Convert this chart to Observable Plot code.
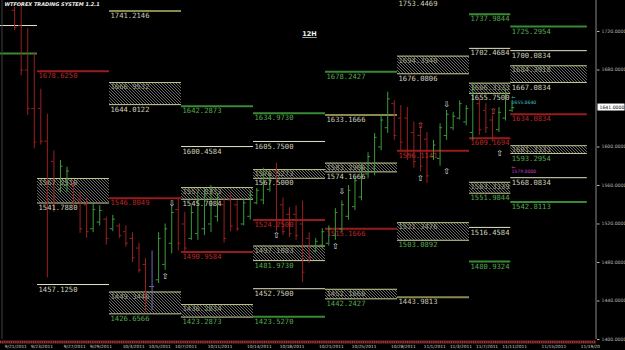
<!DOCTYPE html>
<html><head><meta charset="utf-8">
<script src="https://cdn.jsdelivr.net/npm/d3@7"></script>
<script src="https://cdn.jsdelivr.net/npm/@observablehq/plot@0.6"></script>
<style>html,body{margin:0;padding:0;background:#000;}#chart{width:625px;height:350px;overflow:hidden;}</style>
</head><body><div id="chart"></div>
<script>
// ---- 12H OHLC bars (bar 1 .. 77) ----
const barHigh  = [1745,1750,1723,1698,1660,1634,1596,1586,1579,1563,1553,1547,1541,1539,1527,1529,1520,1518,1511,1500,1484,1492,1511,1520,1539,1547,1532,1539,1550,1557,1560,1552,1547,1552,1544,1546,1555,1557,1578,1572,1583,1547,1537,1539,1544,1511,1505,1515,1518,1536,1544,1560,1568,1583,1594,1614,1633,1657,1648,1643,1641,1626,1619,1615,1607,1624,1638,1636,1648,1643,1666,1650,1645,1633,1641,1661,1648];
const barLow   = [1721,1674,1633,1598,1602,1464,1532,1552,1553,1539,1510,1505,1511,1518,1498,1512,1505,1496,1480,1469,1428,1430,1458,1472,1489,1492,1490,1503,1503,1508,1511,1522,1500,1512,1512,1518,1524,1540,1540,1553,1512,1508,1506,1503,1459,1479,1490,1494,1497,1503,1511,1524,1534,1544,1567,1570,1596,1614,1607,1596,1586,1578,1574,1562,1586,1580,1607,1617,1628,1622,1607,1612,1614,1605,1615,1627,1636];
const barOpen  = [1742,1726,1680,1640,1640,1606,1585,1556,1560,1560,1545,1540,1515,1522,1525,1515,1518,1512,1505,1495,1478,1455,1462,1478,1500,1535,1520,1505,1510,1515,1520,1528,1540,1545,1540,1520,1528,1542,1545,1556,1575,1540,1530,1530,1520,1505,1492,1498,1500,1508,1515,1528,1538,1548,1572,1578,1600,1620,1645,1630,1630,1615,1612,1608,1590,1588,1612,1620,1630,1626,1615,1645,1638,1628,1618,1630,1638];
const barClose = [1724,1680,1640,1605,1606,1545,1548,1580,1575,1545,1515,1512,1535,1534,1505,1525,1508,1500,1485,1472,1440,1455,1505,1515,1532,1500,1495,1532,1545,1550,1555,1548,1505,1518,1515,1542,1550,1555,1572,1568,1520,1512,1510,1508,1470,1485,1502,1512,1515,1532,1540,1555,1565,1578,1590,1610,1628,1650,1612,1605,1592,1585,1580,1570,1602,1620,1634,1632,1645,1640,1660,1618,1620,1610,1636,1655,1641];

// ---- weekly levels (in bar slots) ----
const levelStart = [-0.66,-0.66,5,5,16,16,27,27,27,38,38,38,38,38,49,49,49,60,60,60,71,71,71,71,71,77.3,77.3,77.3,77.3,77.3];
const levelEnd   = [5,5,16,16,27,27,38,38,38,49,49,49,49,49,60,60,60,71,71,71,77.3,77.3,77.3,77.3,77.3,89,89,89,89,89];
const levelValue = [1726.2,1697.2,1678.625,1457.125,1741.2146,1546.8049,1642.2873,1600.4584,1490.9584,1634.973,1605.75,1524.25,1452.75,1423.527,1678.2427,1633.1666,1515.1666,1753.4469,1596.1141,1443.9813,1737.9844,1702.4684,1609.1694,1516.4584,1480.9324,1725.2954,1700.0834,1634.0834,1568.0834,1542.8113];
const levelLabel = ["","","1678.6250","1457.1250","1741.2146","1546.8049","1642.2873","1600.4584","1490.9584","1634.9730","1605.7500","1524.2500","1452.7500","1423.5270","1678.2427","1633.1666","1515.1666","1753.4469","1596.1141","1443.9813","1737.9844","1702.4684","1609.1694","1516.4584","1480.9324","1725.2954","1700.0834","1634.0834","1568.0834","1542.8113"];
const levelKind  = ["w","g","r","w","o","r","g","w","r","g","w","r","w","g","g","o","r","w","r","o","g","w","r","w","g","g","w","r","w","g"];

// ---- hatched zones ----
const zoneStart  = [5,16,16,27,27,38,38,49,49,60,60,71,71,77.3,77.3];
const zoneEnd    = [16,27,27,38,38,49,49,60,60,71,71,77.3,77.3,89,89];
const zoneTop    = [1567.251,1666.9532,1449.3446,1557.8333,1436.2834,1576.5273,1497.1083,1583.2906,1452.1666,1694.394,1521.3476,1666.3333,1563.3339,1684.3918,1601.3333];
const zoneBottom = [1541.788,1644.0122,1426.6566,1545.7084,1423.2873,1567.5,1481.973,1574.1666,1442.2427,1676.0806,1503.0892,1655.75,1551.9844,1667.0834,1593.2954];
const zoneKind   = ["w","w","g","w","g","w","g","w","g","w","g","w","g","w","g"];

// ---- signal arrows ----
const signalSlot  = [25.5,24.5,41.5,50.5,51.5,67.5,63.5,67.5,63.5,74.6,75.6];
const signalPrice = [1541,1466,1508,1497,1554,1644,1567,1575,1622,1637,1593];
const signalDir   = ["down","up","up","up","down","down","up","up","up","up","up"];
const signalKind  = ["w","w","w","w","w","w","w","w","r","r","w"];

// ---- small price tags ----
const tagSlot  = [77.4,77.4];
const tagPrice = [1649,1577];
const tagText  = ["1655.0640","1579.0000"];
const tagKind  = ["c","m"];

// ---- axes ----
const dateSlots  = [0,4,9,13,18,22,26,31,37,42,48,53,59,64,68,72,76,82,88];
const dateLabels = ["9/21/2011","9/23/2011","9/27/2011","9/29/2011","10/3/2011","10/5/2011","10/7/2011","10/11/2011","10/14/2011","10/18/2011","10/21/2011","10/25/2011","10/28/2011","11/1/2011","11/3/2011","11/7/2011","11/11/2011","11/15/2011","11/19/20"];
const yTicks = [1400,1440,1480,1520,1560,1600,1680,1720];
const currentPrice = 1641;
const xDomain = [-0.66, 90.4];
const yDomain = [1400, 1752.2];
const titleText = "WTFOREX TRADING SYSTEM 1.2.1";
const periodText = "12H";

// ---- build tables ----
const bars = barHigh.map((h,i)=>({slot:i+1.5, high:h, low:barLow[i], open:barOpen[i], close:barClose[i]}));
const levels = levelValue.map((v,i)=>({start:levelStart[i], end:levelEnd[i], value:v, label:levelLabel[i], kind:levelKind[i]}));
const zones = zoneTop.map((t,i)=>({start:zoneStart[i], end:zoneEnd[i], top:t, bottom:zoneBottom[i], kind:zoneKind[i]}));
const signals = signalSlot.map((s,i)=>({slot:s, price:signalPrice[i], dir:signalDir[i], kind:signalKind[i]}));
const tags = tagSlot.map((s,i)=>({slot:s, price:tagPrice[i], text:tagText[i], kind:tagKind[i]}));
const dateMap = new Map(dateSlots.map((s,i)=>[s, dateLabels[i]]));

const barColor = d => d.close > d.open ? "#3d9a3d" : d.close < d.open ? "#9a2020" : "#7868b0";
const lineColor = {w:"#e4e4c4", g:"#3a8a34", r:"#981c1c", o:"#8a8a50"};
const textColor = {w:"#cfcfbc", g:"#55a850", r:"#b82828", o:"#c8c8b4"};
const tagColor = {c:"#3cc4d0", m:"#c040c8"};
const mono = "'DejaVu Sans Mono', monospace";

const svg = Plot.plot({
  width: 625, height: 350,
  marginLeft: 0, marginRight: 29, marginTop: 0, marginBottom: 11,
  x: {domain: xDomain},
  y: {domain: yDomain},
  color: {type: "identity"},
  style: {background: "#000", color: "#ccc", fontFamily: "'DejaVu Sans', sans-serif", overflow: "visible"},
  marks: [
    Plot.rect(zones, {x1:"start", x2:"end", y1:"bottom", y2:"top", fill:"url(#hatch)"}),
    Plot.ruleY(zones, {x1:"start", x2:"end", y:"top", stroke:"#c4ca88", strokeWidth:1}),
    Plot.ruleY(zones, {x1:"start", x2:"end", y:"bottom", stroke:"#d2d2a2", strokeWidth:1}),
    Plot.ruleY(levels.filter(d=>d.kind!=="w"), {x1:"start", x2:"end", y:"value", stroke:d=>lineColor[d.kind], strokeWidth:2}),
    Plot.ruleY(levels.filter(d=>d.kind==="w"), {x1:"start", x2:"end", y:"value", stroke:d=>lineColor[d.kind], strokeWidth:1}),
    Plot.ruleY([yDomain[0]], {stroke:"#561414", strokeWidth:3.5, dy:2.5}),
    Plot.ruleY([yDomain[0]], {stroke:"#c87a7a", strokeWidth:1, strokeDasharray:"1,1.2", dy:2.5}),
    Plot.ruleX([xDomain[1]], {stroke:"#8a8a8a", dx:-0.5}),
    Plot.ruleX([xDomain[0]], {stroke:"#404040", dx:1.5}),
    Plot.ruleX(bars, {x:"slot", y1:"low", y2:"high", stroke:barColor, strokeWidth:1}),
    Plot.ruleY(bars, {x1:d=>d.slot-0.38, x2:"slot", y:"open", stroke:barColor, strokeWidth:1}),
    Plot.ruleY(bars, {x1:"slot", x2:d=>d.slot+0.38, y:"close", stroke:barColor, strokeWidth:1}),
    Plot.text(levels.filter(d=>d.label), {x:"start", y:"value", text:"label", textAnchor:"start", lineAnchor:"top", dx:1, dy:2, fill:d=>textColor[d.kind], fontFamily:mono, fontSize:7.2}),
    Plot.text(zones, {x:"start", y:"top", text:d=>d.top.toFixed(4), textAnchor:"start", lineAnchor:"top", dx:1, dy:1.5, fill:"#9a9e84", fontFamily:mono, fontSize:7.2}),
    Plot.text(zones, {x:"start", y:"bottom", text:d=>d.bottom.toFixed(4), textAnchor:"start", lineAnchor:"top", dx:1, dy:2, fill:d=>textColor[d.kind], fontFamily:mono, fontSize:7.2}),
    Plot.text(signals, {x:"slot", y:"price", text:d=>d.dir==="up"?"\u21E7":"\u21E9", fill:d=>d.kind==="r"?"#ff5a5a":"#e8e8e8", fontSize:8}),
    Plot.text(tags, {x:"slot", y:"price", text:"text", textAnchor:"start", lineAnchor:"top", dy:0.5, fill:d=>tagColor[d.kind], fontSize:4.6}),
    Plot.text(tags, {x:"slot", y:"price", text:()=>"\u2190", textAnchor:"start", lineAnchor:"bottom", dy:-0.5, fill:d=>tagColor[d.kind], fontSize:5}),
    Plot.axisY(yTicks, {anchor:"right", tickFormat:d=>d.toFixed(4), fontSize:4.6, tickSize:2.5, tickPadding:2.5, color:"#b8b8b8"}),
    Plot.axisX(dateSlots, {anchor:"bottom", tickFormat:d=>dateMap.get(d), tickSize:0, tickPadding:5, fontSize:4.3, textAnchor:"start", color:"#d0d0d0"}),
    Plot.text([titleText], {frameAnchor:"top-left", dx:4, dy:2, lineAnchor:"top", textAnchor:"start", fontSize:5, fontWeight:"bold", fontStyle:"italic", fill:"#f0f0f0"}),
    Plot.text([periodText], {frameAnchor:"top", dx:11, dy:31, lineAnchor:"top", fontSize:6.5, fontWeight:"bold", fill:"#f4f4f4"})
  ]
});

svg.insertAdjacentHTML("afterbegin",
  '<defs><pattern id="hatch" patternUnits="userSpaceOnUse" width="3" height="3">' +
  '<rect width="3" height="3" fill="#000"/>' +
  '<path d="M-0.75,-0.75L3.75,3.75M-0.75,2.25L0.75,3.75M2.25,-0.75L3.75,0.75" stroke="#909090" stroke-width="0.75"/>' +
  '</pattern></defs>');

const root = d3.select(svg);
root.selectAll("text").filter(function(){ return this.textContent === periodText; }).attr("text-decoration", "underline");

const ys = svg.scale("y"), xs = svg.scale("x");
const yc = ys.apply(currentPrice), xa = xs.apply(xDomain[1]);
root.append("rect").attr("x", xa + 1.5).attr("y", yc - 3.5).attr("width", 27).attr("height", 7).attr("fill", "#fff");
root.append("text").attr("x", xa + 3.5).attr("y", yc).attr("dy", "0.35em").attr("font-size", 4.6)
  .attr("font-family", "'DejaVu Sans', sans-serif").attr("text-anchor", "start").attr("fill", "#000").text(currentPrice.toFixed(4));

document.getElementById("chart").appendChild(svg);
</script>
</body></html>
